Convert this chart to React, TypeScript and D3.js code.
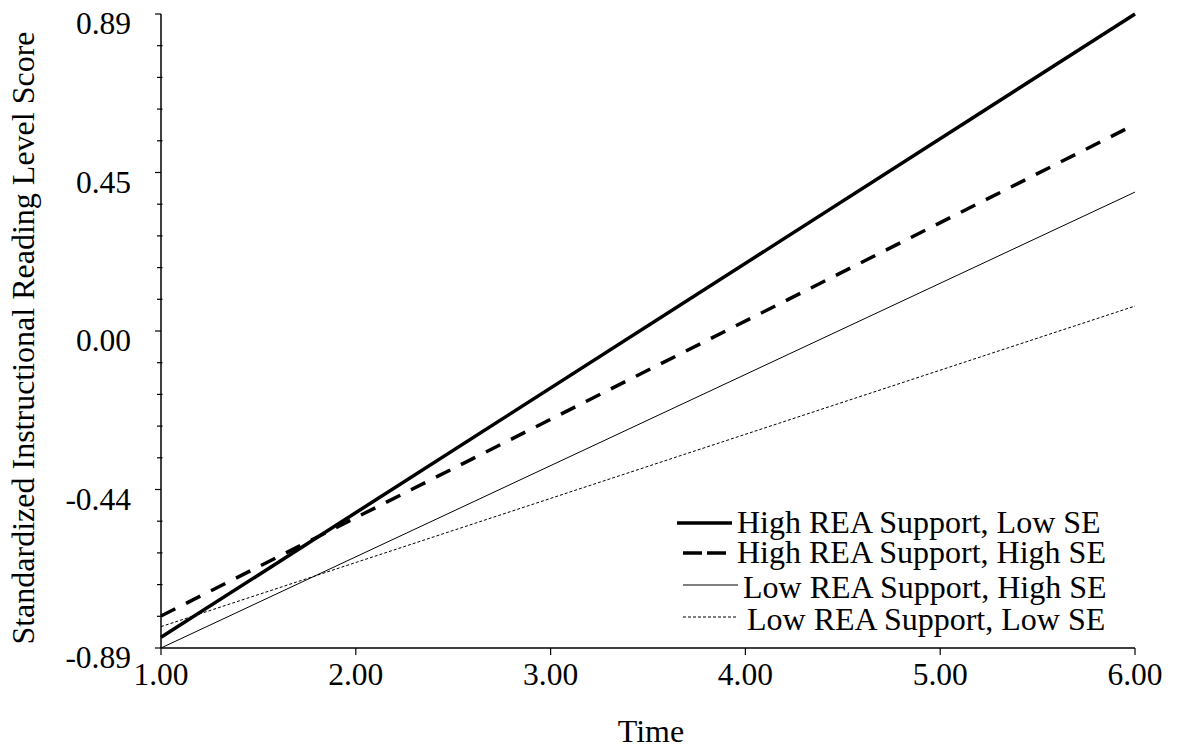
import * as d3 from "d3";

// Time points and the four predicted trajectories
const times = [1, 6];
const highReaLowSe = [-0.86, 0.89];
const highReaHighSe = [-0.8, 0.58];
const lowReaHighSe = [-0.89, 0.39];
const lowReaLowSe = [-0.83, 0.07];

const xTicks = [1, 2, 3, 4, 5, 6];
const xTickLabels = ["1.00", "2.00", "3.00", "4.00", "5.00", "6.00"];
const yTicks = [-0.89, -0.445, 0, 0.445, 0.89];
const yTickLabels = ["-0.89", "-0.44", "0.00", "0.45", "0.89"];

const seriesNames = [
  "High REA Support, Low SE",
  "High REA Support, High SE",
  "Low REA Support, High SE",
  "Low REA Support, Low SE",
];

const W = 1179;
const H = 750;
const left = 161;
const right = 1135;
const top = 14;
const bottom = 648;
const font = "'Liberation Serif', 'Times New Roman', serif";

export default function App() {
  const x = d3.scaleLinear().domain([1, 6]).range([left, right]);
  const y = d3.scaleLinear().domain([-0.89, 0.89]).range([bottom, top]);

  const line = d3
    .line<[number, number]>()
    .x((d) => x(d[0]))
    .y((d) => y(d[1]));

  const styles = [
    { w: 3.5, dash: "none", legDash: "none" },
    { w: 3.5, dash: "16,12", legDash: "19,5" },
    { w: 1, dash: "none", legDash: "none" },
    { w: 1, dash: "3,2", legDash: "3,2" },
  ];
  const allSeries = [highReaLowSe, highReaHighSe, lowReaHighSe, lowReaLowSe];

  // minor ticks: 4 between every pair of major ticks
  const minor: number[] = [];
  for (let i = 0; i < yTicks.length - 1; i++) {
    const step = (yTicks[i + 1] - yTicks[i]) / 5;
    for (let k = 1; k < 5; k++) minor.push(yTicks[i] + k * step);
  }

  // legend rows (line y, line start/end, text start, text baseline)
  const legend = [
    { ly: 523, x1: 677, x2: 732, tx: 737, ty: 533 },
    { ly: 553, x1: 683, x2: 726, tx: 737, ty: 563 },
    { ly: 585, x1: 683, x2: 738, tx: 743, ty: 598 },
    { ly: 617, x1: 683, x2: 736, tx: 747, ty: 630 },
  ];

  return (
    <svg
      width={W}
      height={H}
      style={{ position: "absolute", left: 0, top: 0, background: "#fff" }}
      fontFamily={font}
    >
      {/* axes */}
      <line x1={left} x2={left} y1={top} y2={bottom} stroke="#000" strokeWidth={1.5} />
      <line x1={left} x2={right} y1={bottom} y2={bottom} stroke="#000" strokeWidth={1.5} />

      {yTicks.map((t, i) => (
        <g key={"yt" + i}>
          <line x1={left - 6} x2={left} y1={y(t)} y2={y(t)} stroke="#000" strokeWidth={1.2} />
          <text x={131} y={y(t) + 20} textAnchor="end" fontSize={31.5}>
            {yTickLabels[i]}
          </text>
        </g>
      ))}
      {minor.map((t, i) => (
        <line key={"ym" + i} x1={left - 4} x2={left + 1.5} y1={y(t)} y2={y(t)} stroke="#000" strokeWidth={1.2} />
      ))}

      {xTicks.map((t, i) => (
        <g key={"xt" + i}>
          <line x1={x(t)} x2={x(t)} y1={bottom} y2={bottom + 7} stroke="#000" strokeWidth={1.2} />
          <text x={x(t)} y={685} textAnchor="middle" fontSize={31.5}>
            {xTickLabels[i]}
          </text>
        </g>
      ))}

      <text x={651} y={742} textAnchor="middle" fontSize={32}>
        Time
      </text>
      <text
        transform="translate(34,338) rotate(-90)"
        textAnchor="middle"
        fontSize={32}
      >
        Standardized Instructional Reading Level Score
      </text>

      {/* lines */}
      {allSeries.map((s, i) => (
        <path
          key={"s" + i}
          d={line(times.map((t, j) => [t, s[j]] as [number, number])) || ""}
          fill="none"
          stroke="#000"
          strokeWidth={styles[i].w}
          strokeDasharray={styles[i].dash}
        />
      ))}

      {/* legend */}
      {legend.map((l, i) => (
        <g key={"lg" + i}>
          <line
            x1={l.x1}
            x2={l.x2}
            y1={l.ly}
            y2={l.ly}
            stroke="#000"
            strokeWidth={styles[i].w}
            strokeDasharray={styles[i].legDash}
          />
          <text x={l.tx} y={l.ty} fontSize={32}>
            {seriesNames[i]}
          </text>
        </g>
      ))}
    </svg>
  );
}
